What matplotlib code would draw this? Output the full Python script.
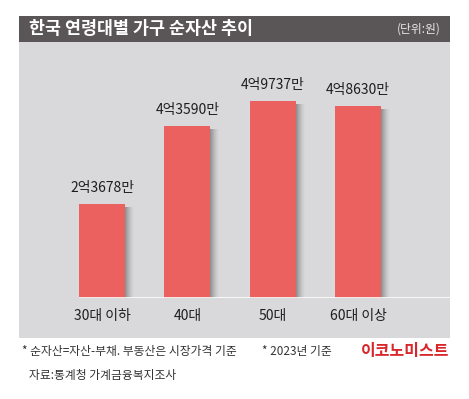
import matplotlib
matplotlib.use("Agg")
import matplotlib.pyplot as plt
from matplotlib.patches import Rectangle

plt.rcParams['font.family'] = ['Noto Sans CJK KR', 'DejaVu Sans']

categories = ["30대 이하", "40대", "50대", "60대 이상"]
values = [23678, 43590, 49737, 48630]  # 만원
value_labels = ["2억3678만", "4억3590만", "4억9737만", "4억8630만"]
title = "한국 연령대별 가구 순자산 추이"
unit = "(단위:원)"
note1 = "* 순자산=자산-부채. 부동산은 시장가격 기준"
note2 = "* 2023년 기준"
source = "자료:통계청 가계금융복지조사"
brand = "이코노미스트"

W, H = 469, 399
fig = plt.figure(figsize=(W / 100, H / 100), dpi=100)
fig.patch.set_facecolor("white")

# background axes in pixel coordinates (y from top)
bg = fig.add_axes([0, 0, 1, 1])
bg.set_xlim(0, W)
bg.set_ylim(H, 0)
bg.axis("off")

panel_color = "#d9d9db"
header_color = "#5a5557"
bar_color = "#eb6160"
text_color = "#1e1e1e"

bg.add_patch(Rectangle((19, 42), 431, 296, color=panel_color, lw=0))
bg.add_patch(Rectangle((19, 16), 431, 26, color=header_color, lw=0))
bg.text(29, 29.5, title, color="white", fontsize=12.5, fontweight="bold", va="center", ha="left")
bg.text(441, 29.5, unit, color="#e6e6e6", fontsize=8.5, va="center", ha="right")

bg.text(22, 352, note1, color="#333333", fontsize=8.5, va="center", ha="left")
bg.text(262, 352, note2, color="#333333", fontsize=8.5, va="center", ha="left")
bg.text(29, 375, source, color="#333333", fontsize=8.5, va="center", ha="left")
bg.text(449, 351, brand, color="#d8262b", fontsize=11.5, fontweight="bold", va="center", ha="right")

# bar axes
x0_pix, x1_pix = 19, 450
base_pix, top_pix = 297.5, 42
spacing = 85.33
left_data = -(102 - x0_pix) / spacing
right_data = 3 + (x1_pix - 358) / spacing
scale = 0.003942  # px per 만원
ax = fig.add_axes([x0_pix / W, (H - base_pix) / H, (x1_pix - x0_pix) / W, (base_pix - top_pix) / H])
ax.set_xlim(left_data, right_data)
ax.set_ylim(0, (base_pix - top_pix) / scale)
ax.axis("off")
ax.patch.set_alpha(0)

xs = list(range(len(values)))
bw = 46 / spacing
px_x = 1 / spacing
px_y = 1 / scale

# shadows
for x, v in zip(xs, values):
    n = 9
    for i in range(n):
        a = 0.55 * (1 - i / n) ** 1.5
        ax.add_patch(Rectangle((x + bw / 2 + i * px_x, 0), px_x, v - 3 * px_y,
                               color="#555555", alpha=a, lw=0))

ax.bar(xs, values, width=bw, color=bar_color, zorder=3)

# baseline
ax.plot([-bw / 2, right_data], [0, 0], color="white", lw=1.2, zorder=4, solid_capstyle="butt")

for x, v, lab in zip(xs, values, value_labels):
    ax.text(x, v + 16 * px_y, lab, ha="center", va="center", fontsize=10, color=text_color)

for x, c in zip(xs, categories):
    ax.text(x, -18.5 * px_y, c, ha="center", va="center", fontsize=10, color=text_color)

fig.savefig("out.png", dpi=100, facecolor="white")
